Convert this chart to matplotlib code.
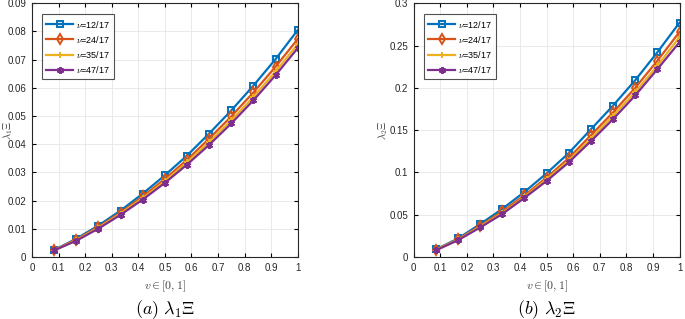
import matplotlib.pyplot as plt
import numpy as np

# DATA
v = np.arange(1, 13) / 12
labels = [r'$\nu$=12/17', r'$\nu$=24/17', r'$\nu$=35/17', r'$\nu$=47/17']

lam1 = [
    [0.0025, 0.0065, 0.0112, 0.0165, 0.0225, 0.0290, 0.0360, 0.0438, 0.0520, 0.0608, 0.0702, 0.0805],
    [0.0025, 0.0062, 0.0107, 0.0158, 0.0215, 0.0277, 0.0345, 0.0420, 0.0499, 0.0584, 0.0675, 0.0773],
    [0.0024, 0.0060, 0.0104, 0.0154, 0.0209, 0.0269, 0.0336, 0.0408, 0.0485, 0.0568, 0.0658, 0.0755],
    [0.0024, 0.0058, 0.0101, 0.0150, 0.0204, 0.0263, 0.0328, 0.0398, 0.0474, 0.0556, 0.0645, 0.0741],
]
lam2 = [
    [0.0090, 0.0220, 0.0390, 0.0570, 0.0770, 0.0990, 0.1230, 0.1510, 0.1790, 0.2090, 0.2420, 0.2770],
    [0.0085, 0.0210, 0.0370, 0.0540, 0.0730, 0.0940, 0.1170, 0.1440, 0.1710, 0.2000, 0.2320, 0.2660],
    [0.0085, 0.0205, 0.0360, 0.0520, 0.0710, 0.0920, 0.1140, 0.1400, 0.1670, 0.1950, 0.2260, 0.2600],
    [0.0080, 0.0200, 0.0350, 0.0510, 0.0700, 0.0900, 0.1120, 0.1370, 0.1630, 0.1910, 0.2220, 0.2540],
]

colors = ['#0072BD', '#D95319', '#EDB120', '#7E2F8E']
markers = ['s', 'd', '+', (6, 2, 0)]

plt.rcParams['font.family'] = ['Liberation Sans', 'DejaVu Sans']
plt.rcParams['mathtext.fontset'] = 'cm'

fig = plt.figure(figsize=(6.85, 3.19), dpi=100)
ax1 = fig.add_axes([0.0467, 0.194, 0.388, 0.796])
ax2 = fig.add_axes([0.604, 0.194, 0.388, 0.796])

panels = [
    (ax1, lam1, 0.09, np.arange(0, 0.091, 0.01), r'$\lambda_1\Xi$', r'$(a)\ \lambda_1\Xi$', -0.09),
    (ax2, lam2, 0.3, np.arange(0, 0.31, 0.05), r'$\lambda_2\Xi$', r'$(b)\ \lambda_2\Xi$', -0.117),
]

for ax, data, ymax, yt, ylab, cap, lx in panels:
    for i in range(4):
        mfc = 'none' if i < 2 else colors[i]
        ax.plot(v, data[i], color=colors[i], marker=markers[i], markersize=5,
                markerfacecolor=mfc, markeredgewidth=1.4, linewidth=1.6, label=labels[i])
    ax.set_xlim(0, 1)
    ax.set_ylim(0, ymax)
    ax.set_xticks(np.arange(0, 1.01, 0.1))
    ax.set_xticklabels(['0', '0.1', '0.2', '0.3', '0.4', '0.5', '0.6', '0.7', '0.8', '0.9', '1'])
    ax.set_yticks(yt)
    ax.set_yticklabels([f'{t:g}' for t in yt])
    ax.tick_params(labelsize=7, direction='in', length=3, top=True, right=True,
                   labelcolor='#262626', pad=4)
    ax.grid(True, color='#e6e6e6', linewidth=0.6)
    ax.set_axisbelow(True)
    for s in ax.spines.values():
        s.set_linewidth(0.8)
        s.set_color('#262626')
    ax.set_xlabel(r'$v \in [0,1]$', fontsize=8.5, color='#404040', labelpad=4)
    ax.set_ylabel(ylab, fontsize=7.5, color='#404040', va='center')
    ax.yaxis.set_label_coords(lx, 0.5)
    leg = ax.legend(loc='upper left', fontsize=6.5, frameon=True, fancybox=False,
                    edgecolor='#262626', handlelength=3.0, borderpad=0.5,
                    labelspacing=0.45, handletextpad=0.3, bbox_to_anchor=(0.02, 0.975))
    leg.get_frame().set_linewidth(0.8)
    ax.text(0.5, -0.205, cap, transform=ax.transAxes, ha='center', va='center',
            fontsize=13)

fig.savefig('out.png', dpi=100)
